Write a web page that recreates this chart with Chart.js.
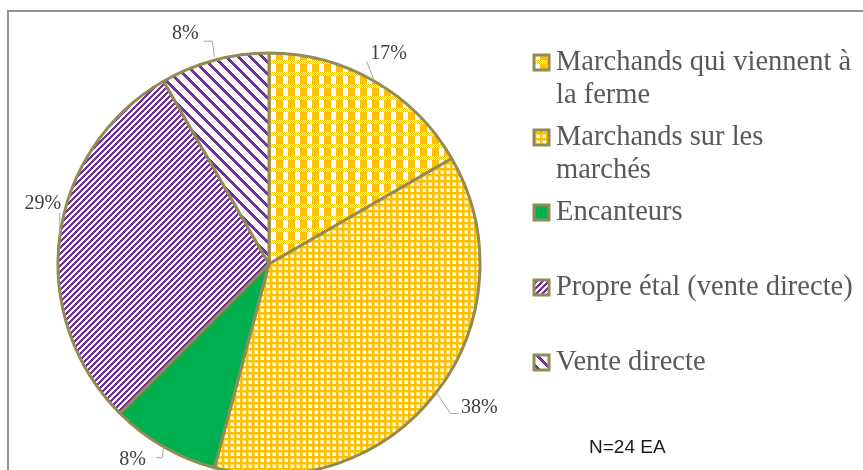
<!DOCTYPE html>
<html>
<head>
<meta charset="utf-8">
<script src="https://cdn.jsdelivr.net/npm/chart.js@4.4.0/dist/chart.umd.min.js"></script>
<style>
  html, body { margin: 0; padding: 0; background: #fff; overflow: hidden; }
  #wrap { position: relative; width: 863px; height: 480px; }
</style>
</head>
<body>
<div id="wrap"><canvas id="chart" width="863" height="480"></canvas></div>
<script>
// categories (legend text, already broken into lines like the original)
var categories = [
    ['Marchands qui viennent à', 'la ferme'],
    ['Marchands sur les', 'marchés'],
    ['Encanteurs'],
    ['Propre étal (vente directe)'],
    ['Vente directe']
];
// number of farms per channel (N = 24)
var counts = [4, 9, 2, 7, 2];
var noteText = 'N=24 EA';

var OLIVE = '#948A54';
var GOLD = [255, 192, 0];
var GOLD_LT = [255, 218, 110];
var WHITE = [255, 255, 255];
var PURPLE = [112, 48, 160];
var GREEN = '#00B050';

var canvas = document.getElementById('chart');
var ctx = canvas.getContext('2d');

// build a repeating pattern from a per-pixel function
function makePattern(w, h, fn) {
    var c = document.createElement('canvas');
    c.width = w; c.height = h;
    var g = c.getContext('2d');
    var img = g.createImageData(w, h);
    for (var y = 0; y < h; y++) {
        for (var x = 0; x < w; x++) {
            var col = fn(x, y);
            var i = (y * w + x) * 4;
            img.data[i] = col[0]; img.data[i + 1] = col[1]; img.data[i + 2] = col[2]; img.data[i + 3] = 255;
        }
    }
    g.putImageData(img, 0, 0);
    return ctx.createPattern(c, 'repeat');
}

// plaid: fine checker rows + solid blocks
var plaid = makePattern(12, 12, function(x, y) {
    if (y < 4) return ((x + y) % 2 === 0) ? GOLD : WHITE;
    return x < 7 ? GOLD : WHITE;
});
// small grid
var grid = makePattern(6, 6, function(x, y) {
    if (x < 2 || y < 2) return GOLD;
    if (x === 2 || y === 2) return GOLD_LT;
    return WHITE;
});
// dark upward diagonal
var upDiag = makePattern(6, 6, function(x, y) {
    return ((x + y) % 6) < 3 ? PURPLE : WHITE;
});
// wide downward diagonal
var downDiag = makePattern(12, 12, function(x, y) {
    return ((x - y + 12) % 12) < 4 ? PURPLE : WHITE;
});

var fills = [plaid, grid, GREEN, upDiag, downDiag];

var total = counts.reduce(function(a, b) { return a + b; }, 0);

// label text offsets / leader elbows, relative to the slice's arc midpoint
var labelLayout = [
    { text: [14, -28], leader: [[0, 0], [-8, -20]] },
    { text: [43, 15], leader: [[0, 0], [14, 21], [22, 21]] },
    { text: [-31, 13], leader: [[0, 0], [-1, 11], [-7, 11]] },
    { text: [-17, -33], leader: [[0, -1], [0, -24]] },
    { text: [-29, -26], leader: [[0, -3], [-2, -19], [-11, -19]] }
];

var decor = {
    id: 'decor',
    beforeDraw: function(chart) {
        var c = chart.ctx;
        c.save();
        c.fillStyle = '#fff';
        c.fillRect(0, 0, chart.width, chart.height);
        c.strokeStyle = '#939393';
        c.lineWidth = 2;
        c.strokeRect(8, 11, 900, 520);
        c.restore();
    },
    afterDraw: function(chart) {
        var c = chart.ctx;
        var arcs = chart.getDatasetMeta(0).data;
        c.save();
        // percentage labels with leader lines
        arcs.forEach(function(arc, i) {
            var p = arc.getProps(['x', 'y', 'startAngle', 'endAngle', 'outerRadius'], true);
            var mid = (p.startAngle + p.endAngle) / 2;
            var ax = p.x + p.outerRadius * Math.cos(mid);
            var ay = p.y + p.outerRadius * Math.sin(mid);
            var lay = labelLayout[i];
            c.strokeStyle = '#a6a6a6';
            c.lineWidth = 1;
            c.beginPath();
            lay.leader.forEach(function(pt, k) {
                if (k === 0) c.moveTo(ax + pt[0], ay + pt[1]);
                else c.lineTo(ax + pt[0], ay + pt[1]);
            });
            c.stroke();
            c.fillStyle = '#404040';
            c.font = '20px "Liberation Serif", "Times New Roman", serif';
            c.textAlign = 'center';
            c.textBaseline = 'middle';
            var pct = Math.round(counts[i] / total * 100) + '%';
            c.fillText(pct, ax + lay.text[0], ay + lay.text[1]);
        });

        // legend
        var legX = 534, textX = 556, slotTop = 41, slotH = 75, lineH = 33, firstLine = 21;
        c.font = '28.5px "Liberation Serif", "Times New Roman", serif';
        c.textAlign = 'left';
        c.textBaseline = 'middle';
        categories.forEach(function(lines, i) {
            var y0 = slotTop + i * slotH + firstLine;
            c.fillStyle = fills[i];
            c.fillRect(legX, y0 - 7, 15, 15);
            c.strokeStyle = OLIVE;
            c.lineWidth = 3;
            c.strokeRect(legX, y0 - 7, 15, 15);
            c.fillStyle = '#595959';
            lines.forEach(function(t, k) {
                c.fillText(t, textX, y0 + k * lineH + 1);
            });
        });

        // sample size note
        c.fillStyle = '#1a1a1a';
        c.font = '19px "Liberation Sans", Arial, sans-serif';
        c.fillText(noteText, 589, 448);
        c.restore();
    }
};

var chart = new Chart(ctx, {
    type: 'pie',
    data: {
        labels: categories.map(function(l) { return l.join(' '); }),
        datasets: [{
            data: counts,
            backgroundColor: fills,
            borderColor: OLIVE,
            borderWidth: 3
        }]
    },
    options: {
        responsive: false,
        animation: false,
        radius: 211,
        layout: { padding: { left: 0, right: 325, top: 48, bottom: 0 } },
        plugins: {
            legend: { display: false },
            tooltip: { enabled: false }
        }
    },
    plugins: [decor]
});
</script>
</body>
</html>
